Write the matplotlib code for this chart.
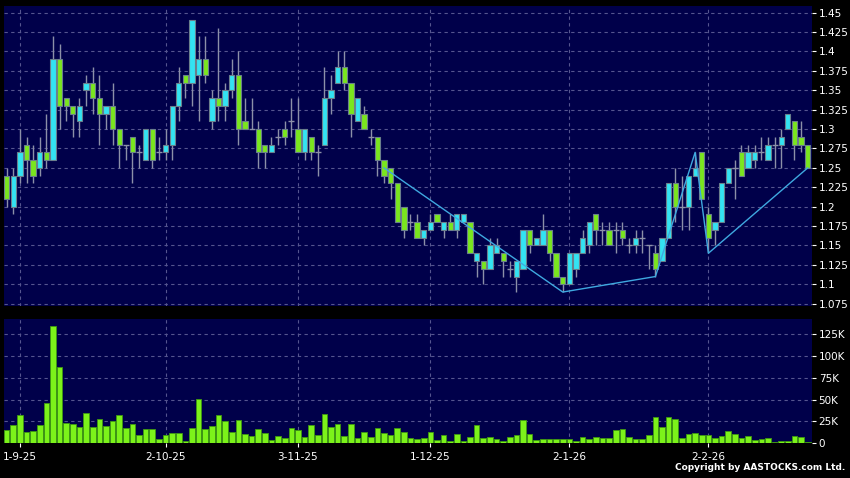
import numpy as np
import matplotlib.pyplot as plt

# daily OHLC, oldest first
opens = [1.24, 1.20, 1.24, 1.28, 1.26, 1.25, 1.27, 1.26, 1.39, 1.34,
         1.33, 1.31, 1.35, 1.36, 1.34, 1.32, 1.33, 1.30, 1.28, 1.29,
         1.27, 1.26, 1.30, 1.27, 1.27, 1.28, 1.33, 1.37, 1.36, 1.37,
         1.39, 1.31, 1.34, 1.33, 1.35, 1.37, 1.31, 1.30, 1.30, 1.28,
         1.27, 1.29, 1.30, 1.31, 1.30, 1.27, 1.29, 1.27, 1.28, 1.34,
         1.36, 1.38, 1.36, 1.31, 1.32, 1.29, 1.29, 1.26, 1.25, 1.23,
         1.20, 1.18, 1.18, 1.16, 1.17, 1.19, 1.17, 1.18, 1.17, 1.18,
         1.18, 1.13, 1.13, 1.12, 1.14, 1.14, 1.12, 1.11, 1.12, 1.17,
         1.15, 1.15, 1.17, 1.14, 1.11, 1.10, 1.12, 1.14, 1.15, 1.19,
         1.17, 1.17, 1.17, 1.17, 1.15, 1.15, 1.16, 1.15, 1.14, 1.13,
         1.16, 1.23, 1.20, 1.20, 1.24, 1.27, 1.19, 1.17, 1.18, 1.23,
         1.25, 1.27, 1.25, 1.26, 1.27, 1.26, 1.28, 1.28, 1.30, 1.31,
         1.29, 1.28]
highs = [1.25, 1.25, 1.30, 1.29, 1.28, 1.29, 1.32, 1.42, 1.41, 1.34,
         1.33, 1.34, 1.37, 1.38, 1.37, 1.33, 1.36, 1.30, 1.28, 1.29,
         1.28, 1.30, 1.30, 1.29, 1.30, 1.33, 1.38, 1.37, 1.44, 1.42,
         1.42, 1.35, 1.43, 1.36, 1.39, 1.40, 1.34, 1.34, 1.31, 1.28,
         1.29, 1.30, 1.31, 1.34, 1.34, 1.30, 1.29, 1.28, 1.38, 1.37,
         1.40, 1.40, 1.36, 1.34, 1.33, 1.30, 1.29, 1.26, 1.25, 1.23,
         1.20, 1.19, 1.19, 1.17, 1.19, 1.19, 1.18, 1.19, 1.19, 1.19,
         1.18, 1.14, 1.13, 1.16, 1.16, 1.14, 1.13, 1.13, 1.17, 1.17,
         1.16, 1.19, 1.17, 1.14, 1.11, 1.14, 1.14, 1.17, 1.18, 1.19,
         1.18, 1.18, 1.18, 1.18, 1.16, 1.17, 1.17, 1.15, 1.15, 1.16,
         1.23, 1.25, 1.24, 1.24, 1.27, 1.27, 1.20, 1.18, 1.23, 1.25,
         1.26, 1.28, 1.28, 1.28, 1.29, 1.29, 1.29, 1.30, 1.32, 1.31,
         1.31, 1.28]
lows = [1.20, 1.19, 1.23, 1.23, 1.23, 1.24, 1.25, 1.26, 1.30, 1.31,
        1.29, 1.29, 1.33, 1.32, 1.28, 1.30, 1.28, 1.25, 1.26, 1.23,
        1.25, 1.26, 1.25, 1.26, 1.26, 1.26, 1.31, 1.34, 1.33, 1.31,
        1.36, 1.30, 1.31, 1.31, 1.34, 1.28, 1.30, 1.30, 1.25, 1.25,
        1.27, 1.28, 1.28, 1.29, 1.27, 1.26, 1.26, 1.24, 1.28, 1.32,
        1.36, 1.35, 1.29, 1.31, 1.30, 1.28, 1.24, 1.23, 1.21, 1.18,
        1.16, 1.17, 1.16, 1.15, 1.17, 1.18, 1.16, 1.17, 1.16, 1.18,
        1.14, 1.11, 1.10, 1.12, 1.14, 1.11, 1.11, 1.09, 1.12, 1.14,
        1.15, 1.15, 1.13, 1.11, 1.09, 1.10, 1.11, 1.14, 1.14, 1.15,
        1.15, 1.15, 1.14, 1.15, 1.14, 1.14, 1.14, 1.12, 1.11, 1.13,
        1.16, 1.18, 1.17, 1.17, 1.24, 1.21, 1.14, 1.15, 1.18, 1.23,
        1.21, 1.24, 1.25, 1.25, 1.26, 1.26, 1.25, 1.25, 1.30, 1.26,
        1.27, 1.25]
closes = [1.21, 1.24, 1.27, 1.26, 1.24, 1.27, 1.26, 1.39, 1.33, 1.33,
          1.32, 1.33, 1.36, 1.34, 1.32, 1.33, 1.30, 1.28, 1.28, 1.27,
          1.27, 1.30, 1.26, 1.27, 1.28, 1.33, 1.36, 1.36, 1.44, 1.39,
          1.37, 1.34, 1.33, 1.35, 1.37, 1.30, 1.30, 1.30, 1.27, 1.27,
          1.28, 1.29, 1.29, 1.31, 1.27, 1.30, 1.27, 1.27, 1.34, 1.35,
          1.38, 1.36, 1.32, 1.34, 1.30, 1.29, 1.26, 1.24, 1.23, 1.18,
          1.17, 1.18, 1.16, 1.17, 1.18, 1.18, 1.18, 1.17, 1.19, 1.19,
          1.14, 1.14, 1.12, 1.15, 1.15, 1.13, 1.12, 1.13, 1.17, 1.15,
          1.16, 1.17, 1.14, 1.11, 1.10, 1.14, 1.14, 1.16, 1.18, 1.17,
          1.17, 1.15, 1.17, 1.16, 1.15, 1.16, 1.16, 1.15, 1.12, 1.16,
          1.23, 1.20, 1.20, 1.24, 1.25, 1.21, 1.16, 1.18, 1.23, 1.25,
          1.25, 1.24, 1.27, 1.27, 1.27, 1.28, 1.28, 1.29, 1.32, 1.28,
          1.28, 1.25]

# volume in thousands of shares
volume = [15.2, 20.6, 32.0, 13.0, 14.5, 20.6, 46.0, 135.0, 88.0, 23.0,
          21.7, 19.0, 34.7, 18.3, 27.8, 19.8, 26.0, 33.0, 17.0, 21.7,
          9.0, 16.4, 16.0, 4.6, 9.0, 11.4, 11.4, 2.7, 17.5, 50.7,
          16.8, 19.4, 32.8, 25.5, 13.3, 26.7, 10.7, 8.4, 16.4, 11.8,
          3.8, 8.4, 6.1, 17.1, 15.2, 6.9, 21.0, 9.5, 34.0, 18.3,
          22.5, 8.8, 21.7, 5.7, 13.0, 7.6, 17.1, 12.2, 9.9, 17.5,
          13.3, 6.1, 4.6, 6.1, 13.3, 3.8, 9.0, 2.7, 10.7, 3.0,
          7.6, 20.6, 5.7, 7.2, 5.3, 2.7, 6.9, 9.9, 26.7, 10.7,
          3.4, 4.6, 5.0, 4.6, 4.6, 5.0, 2.7, 7.6, 5.0, 7.6,
          6.5, 6.1, 15.2, 16.8, 7.2, 5.3, 5.3, 9.0, 30.5, 18.3,
          29.7, 28.2, 5.7, 10.3, 12.2, 9.5, 9.5, 5.7, 8.8, 13.7,
          10.3, 6.5, 8.4, 3.8, 5.3, 6.5, 1.5, 2.3, 2.3, 8.4,
          7.6, 1.5]

# date labels and the trading-day index they sit on
date_labels = ['1-9-25', '2-10-25', '3-11-25', '1-12-25', '2-1-26', '2-2-26']
date_pos = [2, 24, 44, 64, 85, 106]

# zigzag pivots (day index, price)
zz_idx = [57, 84, 98, 104, 106, 121]
zz_val = [1.25, 1.09, 1.11, 1.27, 1.14, 1.25]

BG = '#00004a'
GRID = '#55558f'
UP = '#33e3f2'
DOWN = '#7ae61e'
EDGE = '#6a7f8c'
WICK = '#8c90a8'

o = np.array(opens); h = np.array(highs); l = np.array(lows); c = np.array(closes)
x = np.arange(len(o))

fig = plt.figure(figsize=(8.5, 4.78), dpi=100, facecolor='black')
ax = fig.add_axes([0.0047, 0.3598, 0.9502, 0.6276], facecolor=BG)
axv = fig.add_axes([0.0047, 0.0726, 0.9502, 0.2601], facecolor=BG)

# candles
ax.vlines(x, l, h, color=WICK, lw=1, zorder=2)
up = c > o
down = c < o
flat = c == o
ax.bar(x[up], (c - o)[up], bottom=o[up], width=0.8, color=UP, edgecolor=EDGE, lw=0.8, zorder=3)
ax.bar(x[down], (o - c)[down], bottom=c[down], width=0.8, color=DOWN, edgecolor=EDGE, lw=0.8, zorder=3)
ax.hlines(c[flat], x[flat] - 0.45, x[flat] + 0.45, color=WICK, lw=1, zorder=3)

ax.plot(zz_idx, zz_val, color='#3fa9e0', lw=1, zorder=4)

# volume
axv.bar(x, volume, width=0.85, color='#7cf21a', edgecolor='#3f9a10', lw=0.6, zorder=3)

for a in (ax, axv):
    a.set_xlim(-0.4, len(o) - 0.4)
    a.yaxis.tick_right()
    a.tick_params(axis='y', colors='white', labelsize=7.5, length=3, pad=2, width=0.8)
    a.tick_params(axis='x', colors='white', labelsize=7.5, length=3, width=0.8)
    for s in a.spines.values():
        s.set_visible(False)
    a.set_xticks(date_pos)
    a.grid(True, color=GRID, ls=(0, (3, 3)), lw=0.8, zorder=0)

ax.set_ylim(1.072, 1.4586)
ticks = np.arange(1.075, 1.451, 0.025)
ax.set_yticks(ticks)
ax.set_yticklabels([('%.3f' % t).rstrip('0').rstrip('.') for t in ticks])
ax.set_xticklabels([])
ax.tick_params(axis='x', length=0)

axv.set_ylim(0, 142.5)
vt = [0, 25, 50, 75, 100, 125]
axv.set_yticks(vt)
axv.set_yticklabels(['0' if v == 0 else '%dK' % v for v in vt])
axv.set_xticklabels(date_labels)

fig.text(0.994, 0.012, 'Copyright by AASTOCKS.com Ltd.', color='white', fontsize=6.5,
         ha='right', va='bottom', fontweight='bold')

fig.savefig('out.png', dpi=100, facecolor='black')
